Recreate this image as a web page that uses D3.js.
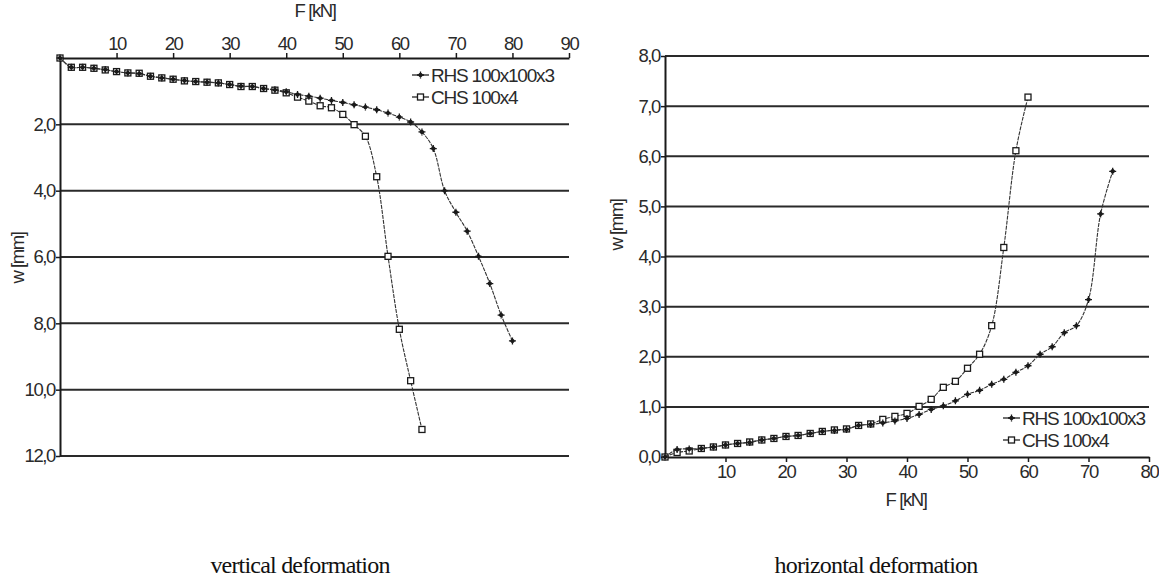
<!DOCTYPE html>
<html>
<head>
<meta charset="utf-8">
<script src="https://cdn.jsdelivr.net/npm/d3@7"></script>
<style>
  body { margin: 0; background: #fff; }
  svg text { font-family: "Liberation Sans", Arial, sans-serif; fill: #2a2a2a; }
  .title { font-family: "Liberation Serif", "Times New Roman", serif; font-size: 24px; fill: #111; letter-spacing: -0.8px; }
</style>
</head>
<body>
<div id="graph"></div>
<script>
// vertical deformation data (F in kN, w in mm)
const vertF_RHS = [0, 2, 4, 6, 8, 10, 12, 14, 16, 18, 20, 22, 24, 26, 28, 30, 32, 34, 36, 38, 40, 42, 44, 46, 48, 50, 52, 54, 56, 58, 60, 62, 64, 66, 68, 70, 72, 74, 76, 78, 80];
const vertW_RHS = [0, 0.28, 0.28, 0.31, 0.35, 0.41, 0.45, 0.47, 0.55, 0.60, 0.64, 0.68, 0.71, 0.73, 0.75, 0.80, 0.85, 0.86, 0.92, 0.96, 1.02, 1.10, 1.15, 1.21, 1.28, 1.34, 1.41, 1.48, 1.56, 1.66, 1.78, 1.93, 2.23, 2.73, 4.0, 4.65, 5.22, 5.98, 6.80, 7.75, 8.53];
const vertF_CHS = [0, 2, 4, 6, 8, 10, 12, 14, 16, 18, 20, 22, 24, 26, 28, 30, 32, 34, 36, 38, 40, 42, 44, 46, 48, 50, 52, 54, 56, 58, 60, 62, 64];
const vertW_CHS = [0, 0.28, 0.28, 0.31, 0.36, 0.41, 0.45, 0.46, 0.55, 0.60, 0.64, 0.69, 0.71, 0.73, 0.75, 0.80, 0.86, 0.86, 0.92, 0.97, 1.05, 1.18, 1.30, 1.44, 1.50, 1.70, 2.01, 2.36, 3.58, 5.98, 8.18, 9.73, 11.2];

// horizontal deformation data
const horF_RHS = [0, 2, 4, 6, 8, 10, 12, 14, 16, 18, 20, 22, 24, 26, 28, 30, 32, 34, 36, 38, 40, 42, 44, 46, 48, 50, 52, 54, 56, 58, 60, 62, 64, 66, 68, 70, 72, 74];
const horW_RHS = [0, 0.15, 0.16, 0.17, 0.20, 0.24, 0.27, 0.29, 0.34, 0.37, 0.41, 0.43, 0.47, 0.51, 0.53, 0.55, 0.63, 0.65, 0.68, 0.72, 0.77, 0.85, 0.95, 1.02, 1.12, 1.25, 1.33, 1.45, 1.55, 1.69, 1.82, 2.05, 2.20, 2.48, 2.62, 3.14, 4.85, 5.70];
const horF_CHS = [0, 2, 4, 6, 8, 10, 12, 14, 16, 18, 20, 22, 24, 26, 28, 30, 32, 34, 36, 38, 40, 42, 44, 46, 48, 50, 52, 54, 56, 58, 60];
const horW_CHS = [0, 0.09, 0.12, 0.17, 0.20, 0.24, 0.27, 0.30, 0.34, 0.37, 0.41, 0.43, 0.47, 0.51, 0.54, 0.56, 0.63, 0.66, 0.75, 0.81, 0.87, 1.01, 1.15, 1.39, 1.51, 1.77, 2.05, 2.62, 4.18, 6.11, 7.18];

const seriesNames = ["RHS 100x100x3", "CHS 100x4"];
const vertYTicks = [2, 4, 6, 8, 10, 12];
const vertXTicks = [10, 20, 30, 40, 50, 60, 70, 80, 90];
const horYTicks = [0, 1, 2, 3, 4, 5, 6, 7, 8];
const horXTicks = [10, 20, 30, 40, 50, 60, 70, 80];

const w = 1159;
const h = 578;
const fmt = d => d3.format(".1f")(d).replace(".", ",");
const toPoints = (xs, ys) => xs.map((x, i) => [x, ys[i]]);

// label style shared by ticks and axis titles
const labelStyle = sel => sel.attr("font-size", 18.5).style("letter-spacing", "-1.4px");

const svg = d3.select("#graph")
              .append("svg")
              .attr("width", w)
              .attr("height", h);

const drawMarkers = (g, pts, i) => {
    if (i === 1) {
        g.selectAll(null)
         .data(pts)
         .enter()
         .append("rect")
         .attr("x", d => d[0] - 3)
         .attr("y", d => d[1] - 3)
         .attr("width", 6)
         .attr("height", 6)
         .attr("fill", "#fff")
         .attr("stroke", "#1a1a1a")
         .attr("stroke-width", 1.3);
    } else {
        // small diamond with a cross through it
        g.selectAll(null)
         .data(pts)
         .enter()
         .append("path")
         .attr("d", d => `M${d[0] - 2},${d[1]}L${d[0]},${d[1] - 2}L${d[0] + 2},${d[1]}L${d[0]},${d[1] + 2}Z` +
                         `M${d[0] - 3.5},${d[1]}L${d[0] + 3.5},${d[1]}M${d[0]},${d[1] - 3.5}L${d[0]},${d[1] + 3.5}`)
         .attr("fill", "#333")
         .attr("stroke", "#1a1a1a")
         .attr("stroke-width", 1.3);
    }
};

// draw one panel
const drawPanel = (opt) => {
    const g = svg.append("g");
    const x = opt.x, y = opt.y;

    // gridlines
    g.selectAll(".grid")
     .data(opt.yTicks.filter(t => t !== 0))
     .enter()
     .append("line")
     .attr("x1", x.range()[0])
     .attr("x2", x.range()[1])
     .attr("y1", d => y(d))
     .attr("y2", d => y(d))
     .attr("stroke", "#2a2a2a")
     .attr("stroke-width", 2);

    // x axis
    const xAxis = (opt.axisBottom ? d3.axisBottom(x) : d3.axisTop(x))
                    .tickValues(opt.xTicks)
                    .tickSize(5)
                    .tickSizeOuter(0)
                    .tickPadding(3);
    const xg = g.append("g")
                .attr("transform", `translate(0,${y(0)})`)
                .call(xAxis);
    labelStyle(xg.selectAll("text"));

    // y axis
    const yAxis = d3.axisLeft(y)
                    .tickValues(opt.yTicks)
                    .tickFormat(fmt)
                    .tickSize(4)
                    .tickSizeOuter(0)
                    .tickPadding(1);
    const yg = g.append("g")
                .attr("transform", `translate(${x(0)},0)`)
                .call(yAxis);
    labelStyle(yg.selectAll("text"));
    yg.select(".domain").attr("stroke", "#1a1a1a").attr("stroke-width", 2);
    xg.select(".domain").attr("stroke", "#1a1a1a").attr("stroke-width", 2);
    g.selectAll(".tick line").attr("stroke", "#1a1a1a").attr("stroke-width", 1.5);

    // data lines and markers (CHS first so RHS markers sit on top where they overlap)
    [1, 0].forEach(i => {
        const pts = opt.series[i];
        g.append("path")
         .datum(pts)
         .attr("fill", "none")
         .attr("stroke", "#333")
         .attr("stroke-width", 1.1)
         .attr("stroke-dasharray", "4,1")
         .attr("d", d3.line().x(d => x(d[0])).y(d => y(d[1])).curve(d3.curveCatmullRom));
        drawMarkers(g, pts.map(d => [x(d[0]), y(d[1])]), i);
    });

    // legend
    seriesNames.forEach((name, i) => {
        const ly = opt.legend[1] + i * 22;
        g.append("line")
         .attr("x1", opt.legend[0]).attr("x2", opt.legend[0] + 17)
         .attr("y1", ly).attr("y2", ly)
         .attr("stroke", "#222").attr("stroke-width", 1.3);
        drawMarkers(g, [[opt.legend[0] + 8.5, ly]], i);
        g.append("text")
         .attr("x", opt.legend[0] + 19)
         .attr("y", ly + 6.5)
         .attr("font-size", 19)
         .style("letter-spacing", "-1.2px")
         .text(name);
    });
};

// left panel: vertical deformation (x axis on top, w grows downward)
const xL = d3.scaleLinear().domain([0, 90]).range([60, 569]);
const yL = d3.scaleLinear().domain([0, 12]).range([58, 456]);
drawPanel({
    x: xL, y: yL, axisBottom: false,
    xTicks: vertXTicks, yTicks: vertYTicks,
    series: [toPoints(vertF_RHS, vertW_RHS), toPoints(vertF_CHS, vertW_CHS)],
    legend: [412, 75]
});

// right panel: horizontal deformation
const xR = d3.scaleLinear().domain([0, 80]).range([665, 1149]);
const yR = d3.scaleLinear().domain([0, 8]).range([457, 56]);
drawPanel({
    x: xR, y: yR, axisBottom: true,
    xTicks: horXTicks, yTicks: horYTicks,
    series: [toPoints(horF_RHS, horW_RHS), toPoints(horF_CHS, horW_CHS)],
    legend: [1003, 418]
});

// axis titles
labelStyle(svg.append("text").attr("x", 315).attr("y", 17).attr("text-anchor", "middle").text("F [kN]"));
labelStyle(svg.append("text").attr("transform", "translate(24,258) rotate(-90)").attr("text-anchor", "middle").text("w [mm]"));
labelStyle(svg.append("text").attr("transform", "translate(623,225) rotate(-90)").attr("text-anchor", "middle").text("w [mm]"));
labelStyle(svg.append("text").attr("x", 906).attr("y", 506).attr("text-anchor", "middle").text("F [kN]"));

// panel captions
svg.append("text").attr("class", "title").attr("x", 300).attr("y", 573)
   .attr("text-anchor", "middle").text("vertical deformation");
svg.append("text").attr("class", "title").attr("x", 876).attr("y", 573)
   .attr("text-anchor", "middle").text("horizontal deformation");
</script>
</body>
</html>
